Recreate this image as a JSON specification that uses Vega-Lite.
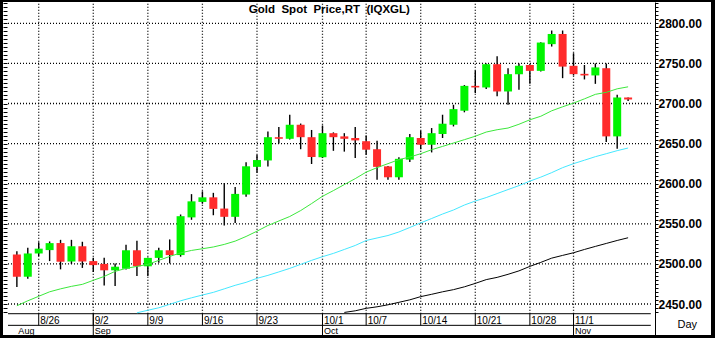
{
 "$schema": "https://vega.github.io/schema/vega-lite/v6.json",
 "width": 708, "height": 333,
 "autosize": {"type": "none"},
 "padding": {"left": 3, "top": 2, "right": 4, "bottom": 3},
 "background": "#000000",
 "config": {"view": {"fill": "#ffffff", "stroke": null}},
 "datasets": {
  "px": [
{"i":0,"d":"2024-08-22","o":2511.8,"h":2515.9,"l":2471.1,"c":2484.1,"m1":2447.8},
{"i":1,"d":"2024-08-23","o":2484,"h":2520,"l":2481.6,"c":2513,"m1":2454.0},
{"i":2,"d":"2024-08-26","o":2513,"h":2527,"l":2509.7,"c":2519,"m1":2459.6},
{"i":3,"d":"2024-08-27","o":2517.2,"h":2528,"l":2503.5,"c":2525.9,"m1":2465.2},
{"i":4,"d":"2024-08-28","o":2526,"h":2530,"l":2493.2,"c":2502.7,"m1":2468.9},
{"i":5,"d":"2024-08-29","o":2503,"h":2530,"l":2500,"c":2522,"m1":2472.0},
{"i":6,"d":"2024-08-30","o":2522,"h":2527.6,"l":2495,"c":2503,"m1":2474.5},
{"i":7,"d":"2024-09-02","o":2503.5,"h":2507.7,"l":2489.8,"c":2498.5,"m1":2479.5},
{"i":8,"d":"2024-09-03","o":2500,"h":2507.7,"l":2473,"c":2492,"m1":2484.4},
{"i":9,"d":"2024-09-04","o":2492,"h":2500.6,"l":2472.4,"c":2496.5,"m1":2490.7},
{"i":10,"d":"2024-09-05","o":2494,"h":2524,"l":2493,"c":2517,"m1":2494.4},
{"i":11,"d":"2024-09-06","o":2517,"h":2529,"l":2485,"c":2497,"m1":2496.9,"m2":2439.0},
{"i":12,"d":"2024-09-09","o":2497,"h":2508,"l":2485,"c":2507.5,"m1":2499.4,"m2":2442.2},
{"i":13,"d":"2024-09-10","o":2507.5,"h":2520,"l":2501.5,"c":2517,"m1":2504.4,"m2":2445.3},
{"i":14,"d":"2024-09-11","o":2517,"h":2530.5,"l":2500.6,"c":2511,"m1":2509.3,"m2":2449.6},
{"i":15,"d":"2024-09-12","o":2511,"h":2561.6,"l":2509,"c":2559.5,"m1":2513.7,"m2":2454.0},
{"i":16,"d":"2024-09-13","o":2558,"h":2587,"l":2555,"c":2578,"m1":2516.8,"m2":2457.7},
{"i":17,"d":"2024-09-16","o":2577.3,"h":2590.5,"l":2575,"c":2583,"m1":2518.9,"m2":2461.2},
{"i":18,"d":"2024-09-17","o":2583,"h":2588.6,"l":2560.7,"c":2568.6,"m1":2521.1,"m2":2464.5},
{"i":19,"d":"2024-09-18","o":2569,"h":2601,"l":2548,"c":2558.7,"m1":2524.3,"m2":2468.9},
{"i":20,"d":"2024-09-19","o":2558.7,"h":2596,"l":2551,"c":2587.3,"m1":2528.4,"m2":2473.3},
{"i":21,"d":"2024-09-20","o":2586.5,"h":2626.6,"l":2583.6,"c":2621.7,"m1":2534.2,"m2":2477.0},
{"i":22,"d":"2024-09-23","o":2621,"h":2636,"l":2613.5,"c":2629.5,"m1":2540.8,"m2":2482.0},
{"i":23,"d":"2024-09-24","o":2629,"h":2665,"l":2621.6,"c":2658,"m1":2547.9,"m2":2485.7},
{"i":24,"d":"2024-09-25","o":2658,"h":2670.6,"l":2650,"c":2656,"m1":2553.5,"m2":2490.0},
{"i":25,"d":"2024-09-26","o":2656,"h":2686,"l":2655,"c":2673.5,"m1":2559.1,"m2":2494.4},
{"i":26,"d":"2024-09-27","o":2673.5,"h":2675,"l":2643,"c":2658,"m1":2566.5,"m2":2499.4},
{"i":27,"d":"2024-09-30","o":2658,"h":2667,"l":2624.6,"c":2633.3,"m1":2575.2,"m2":2504.4},
{"i":28,"d":"2024-10-01","o":2633,"h":2672.6,"l":2632,"c":2663,"m1":2584.3,"m2":2509.0},
{"i":29,"d":"2024-10-02","o":2663,"h":2664,"l":2641,"c":2658,"m1":2591.4,"m2":2513.1},
{"i":30,"d":"2024-10-03","o":2659,"h":2663,"l":2640,"c":2656,"m1":2598.9,"m2":2518.0,"m3":2439.5},
{"i":31,"d":"2024-10-04","o":2657,"h":2670.6,"l":2632,"c":2654,"m1":2606.3,"m2":2523.0,"m3":2441.5},
{"i":32,"d":"2024-10-07","o":2653,"h":2660,"l":2636,"c":2642.4,"m1":2614.4,"m2":2529.2,"m3":2444.6},
{"i":33,"d":"2024-10-08","o":2643,"h":2653.6,"l":2605,"c":2621,"m1":2620.0,"m2":2532.3,"m3":2446.5},
{"i":34,"d":"2024-10-09","o":2621.6,"h":2622,"l":2605,"c":2608,"m1":2625.0,"m2":2535.4,"m3":2449.0},
{"i":35,"d":"2024-10-10","o":2608,"h":2633,"l":2605,"c":2631,"m1":2630.0,"m2":2539.8,"m3":2452.1},
{"i":36,"d":"2024-10-11","o":2630,"h":2662,"l":2627,"c":2658,"m1":2633.3,"m2":2545.4,"m3":2455.2},
{"i":37,"d":"2024-10-14","o":2657,"h":2666,"l":2643,"c":2648.6,"m1":2637.4,"m2":2551.2,"m3":2459.2},
{"i":38,"d":"2024-10-15","o":2648.6,"h":2669.4,"l":2639,"c":2663,"m1":2642.4,"m2":2556.6,"m3":2462.1},
{"i":39,"d":"2024-10-16","o":2662,"h":2686,"l":2657,"c":2674.8,"m1":2646.5,"m2":2562.2,"m3":2465.2},
{"i":40,"d":"2024-10-17","o":2673.5,"h":2698.4,"l":2671.4,"c":2693,"m1":2650.7,"m2":2567.2,"m3":2467.9},
{"i":41,"d":"2024-10-18","o":2691,"h":2723,"l":2689,"c":2722,"m1":2654.9,"m2":2573.4,"m3":2471.4},
{"i":42,"d":"2024-10-21","o":2722,"h":2741,"l":2713,"c":2720,"m1":2659.2,"m2":2578.4,"m3":2475.7},
{"i":43,"d":"2024-10-22","o":2720,"h":2750,"l":2718,"c":2749,"m1":2664.4,"m2":2582.7,"m3":2480.4},
{"i":44,"d":"2024-10-23","o":2749,"h":2759,"l":2709,"c":2715,"m1":2667.3,"m2":2587.7,"m3":2483.2},
{"i":45,"d":"2024-10-24","o":2715,"h":2744,"l":2698.4,"c":2736.6,"m1":2669.4,"m2":2592.7,"m3":2487.0},
{"i":46,"d":"2024-10-25","o":2736.6,"h":2750,"l":2717,"c":2747,"m1":2674.1,"m2":2597.6,"m3":2491.3},
{"i":47,"d":"2024-10-28","o":2748,"h":2748.5,"l":2724.5,"c":2740.7,"m1":2679.7,"m2":2603.2,"m3":2496.9},
{"i":48,"d":"2024-10-29","o":2740.7,"h":2776.5,"l":2740,"c":2776,"m1":2684.1,"m2":2608.2,"m3":2501.9},
{"i":49,"d":"2024-10-30","o":2774,"h":2791,"l":2771,"c":2786.7,"m1":2690.9,"m2":2613.8,"m3":2507.2},
{"i":50,"d":"2024-10-31","o":2786.7,"h":2791,"l":2731.6,"c":2746,"m1":2695.9,"m2":2620.0,"m3":2510.6},
{"i":51,"d":"2024-11-01","o":2747,"h":2762.7,"l":2735,"c":2736.6,"m1":2700.5,"m2":2625.0,"m3":2513.9},
{"i":52,"d":"2024-11-04","o":2737,"h":2748,"l":2730,"c":2735,"m1":2705.8,"m2":2629.3,"m3":2518.0},
{"i":53,"d":"2024-11-05","o":2735,"h":2750,"l":2724.5,"c":2745,"m1":2711.4,"m2":2633.7,"m3":2521.8},
{"i":54,"d":"2024-11-06","o":2744,"h":2750,"l":2652,"c":2659,"m1":2713.9,"m2":2637.4,"m3":2525.5},
{"i":55,"d":"2024-11-07","o":2659,"h":2710.8,"l":2643.6,"c":2707.5,"m1":2718.3,"m2":2641.2,"m3":2529.2},
{"i":56,"d":"2024-11-08","o":2707.5,"h":2707.5,"l":2703,"c":2705,"m1":2720.8,"m2":2644.5,"m3":2532.6}
  ],
  "levels": [{"v":2450},{"v":2500},{"v":2550},{"v":2600},{"v":2650},{"v":2700},{"v":2750},{"v":2800}],
  "ticks": [{"i":2,"t":"8/26"},{"i":7,"t":"9/2"},{"i":12,"t":"9/9"},{"i":17,"t":"9/16"},{"i":22,"t":"9/23"},{"i":28,"t":"10/1"},{"i":32,"t":"10/7"},{"i":37,"t":"10/14"},{"i":42,"t":"10/21"},{"i":47,"t":"10/28"},{"i":51,"t":"11/1"}],
  "months": [{"i":0,"m":"Aug"},{"i":7,"m":"Sep"},{"i":28,"m":"Oct"},{"i":51,"m":"Nov"}]
 },
 "resolve": {"axis": {"y": "independent"}},
 "layer": [
  {"data": {"name": "levels"},
   "mark": {"type": "rule", "color": "#000000", "strokeDash": [1, 2], "strokeWidth": 1.3},
   "encoding": {
    "y": {"field": "v", "type": "quantitative", "scale": {"domain": [2411.35, 2826.56], "nice": false, "zero": false}, "axis": null},
    "x": {"datum": -0.813, "type": "quantitative", "scale": {"domain": [-0.813, 63.137], "nice": false, "zero": false}, "axis": null},
    "x2": {"datum": 58.08}
   }},
  {"data": {"name": "ticks"},
   "mark": {"type": "rule", "color": "#000000", "strokeDash": [1, 2], "strokeWidth": 1.3},
   "encoding": {
    "x": {"field": "i", "type": "quantitative", "scale": {"domain": [-0.813, 63.137], "nice": false, "zero": false}, "axis": null},
    "y": {"datum": 2437.9, "type": "quantitative", "scale": {"domain": [2411.35, 2826.56], "nice": false, "zero": false}, "axis": null},
    "y2": {"datum": 2826.56}
   }},
  {"data": {"name": "ticks"},
   "mark": {"type": "rule", "color": "#000000", "strokeWidth": 1},
   "encoding": {
    "x": {"field": "i", "type": "quantitative", "scale": {"domain": [-0.813, 63.137], "nice": false, "zero": false}, "axis": null},
    "y": {"datum": 2423.4, "type": "quantitative", "scale": {"domain": [2411.35, 2826.56], "nice": false, "zero": false}, "axis": null},
    "y2": {"datum": 2437.9}
   }},
  {"data": {"name": "months"},
   "transform": [{"filter": "datum.i > 0"}],
   "mark": {"type": "rule", "color": "#000000", "strokeWidth": 1},
   "encoding": {
    "x": {"field": "i", "type": "quantitative", "scale": {"domain": [-0.813, 63.137], "nice": false, "zero": false}, "axis": null},
    "y": {"datum": 2411.35, "type": "quantitative", "scale": {"domain": [2411.35, 2826.56], "nice": false, "zero": false}, "axis": null},
    "y2": {"datum": 2437.9}
   }},
  {"data": {"values": [{}]},
   "mark": {"type": "rule", "color": "#000000", "strokeWidth": 1},
   "encoding": {
    "y": {"datum": 2437.9, "type": "quantitative", "scale": {"domain": [2411.35, 2826.56], "nice": false, "zero": false}, "axis": null},
    "x": {"datum": -0.813, "type": "quantitative", "scale": {"domain": [-0.813, 63.137], "nice": false, "zero": false}, "axis": null},
    "x2": {"datum": 58.08}
   }},
  {"data": {"values": [{}]},
   "mark": {"type": "rule", "color": "#000000", "strokeWidth": 1},
   "encoding": {
    "y": {"datum": 2423.4, "type": "quantitative", "scale": {"domain": [2411.35, 2826.56], "nice": false, "zero": false}, "axis": null},
    "x": {"datum": -0.813, "type": "quantitative", "scale": {"domain": [-0.813, 63.137], "nice": false, "zero": false}, "axis": null},
    "x2": {"datum": 58.08}
   }},
  {"data": {"name": "px"},
   "mark": {"type": "rule", "color": "#000000", "strokeWidth": 1.4},
   "encoding": {
    "x": {"field": "i", "type": "quantitative", "scale": {"domain": [-0.813, 63.137], "nice": false, "zero": false}, "axis": null},
    "y": {"field": "l", "type": "quantitative", "scale": {"domain": [2411.35, 2826.56], "nice": false, "zero": false},
     "axis": {"orient": "left", "offset": -4, "tickSize": 4, "tickColor": "#000000", "labels": false, "domain": false, "grid": false, "title": null,
      "values": [2440,2445,2450,2455,2460,2465,2470,2475,2480,2485,2490,2495,2500,2505,2510,2515,2520,2525,2530,2535,2540,2545,2550,2555,2560,2565,2570,2575,2580,2585,2590,2595,2600,2605,2610,2615,2620,2625,2630,2635,2640,2645,2650,2655,2660,2665,2670,2675,2680,2685,2690,2695,2700,2705,2710,2715,2720,2725,2730,2735,2740,2745,2750,2755,2760,2765,2770,2775,2780,2785,2790,2795,2800,2805,2810,2815,2820,2825]}},
    "y2": {"field": "h"}
   }},
  {"data": {"name": "px"},
   "mark": {"type": "bar", "width": 8},
   "encoding": {
    "x": {"field": "i", "type": "quantitative", "scale": {"domain": [-0.813, 63.137], "nice": false, "zero": false}, "axis": null},
    "y": {"field": "o", "type": "quantitative", "scale": {"domain": [2411.35, 2826.56], "nice": false, "zero": false},
     "axis": {"orient": "right", "offset": -56, "tickSize": 3, "tickColor": "#000000", "domainColor": "#000000", "grid": false, "title": null,
      "labelExpr": "datum.value % 50 == 0 ? format(datum.value, '.2f') : ''",
      "labelFont": "Liberation Sans", "labelFontSize": 12, "labelFontWeight": "bold", "labelColor": "#000000", "labelPadding": 0,
      "labelOverlap": false, "labelFlush": false, "labelBound": false,
      "values": [2440,2445,2450,2455,2460,2465,2470,2475,2480,2485,2490,2495,2500,2505,2510,2515,2520,2525,2530,2535,2540,2545,2550,2555,2560,2565,2570,2575,2580,2585,2590,2595,2600,2605,2610,2615,2620,2625,2630,2635,2640,2645,2650,2655,2660,2665,2670,2675,2680,2685,2690,2695,2700,2705,2710,2715,2720,2725,2730,2735,2740,2745,2750,2755,2760,2765,2770,2775,2780,2785,2790,2795,2800,2805,2810,2815,2820,2825]}},
    "y2": {"field": "c"},
    "color": {"condition": {"test": "datum.c >= datum.o", "value": "#00f400"}, "value": "#ff2b2b"}
   }},
  {"data": {"name": "px"},
   "mark": {"type": "line", "color": "#3ce83c", "strokeWidth": 1},
   "encoding": {
    "x": {"field": "i", "type": "quantitative", "scale": {"domain": [-0.813, 63.137], "nice": false, "zero": false}, "axis": null},
    "y": {"field": "m1", "type": "quantitative", "scale": {"domain": [2411.35, 2826.56], "nice": false, "zero": false}, "axis": null}
   }},
  {"data": {"name": "px"},
   "mark": {"type": "line", "color": "#44e8ff", "strokeWidth": 1},
   "encoding": {
    "x": {"field": "i", "type": "quantitative", "scale": {"domain": [-0.813, 63.137], "nice": false, "zero": false}, "axis": null},
    "y": {"field": "m2", "type": "quantitative", "scale": {"domain": [2411.35, 2826.56], "nice": false, "zero": false}, "axis": null}
   }},
  {"data": {"name": "px"},
   "mark": {"type": "line", "color": "#000000", "strokeWidth": 1},
   "encoding": {
    "x": {"field": "i", "type": "quantitative", "scale": {"domain": [-0.813, 63.137], "nice": false, "zero": false}, "axis": null},
    "y": {"field": "m3", "type": "quantitative", "scale": {"domain": [2411.35, 2826.56], "nice": false, "zero": false}, "axis": null}
   }},
  {"data": {"name": "ticks"},
   "mark": {"type": "text", "align": "left", "baseline": "alphabetic", "dx": 1.5, "font": "Liberation Sans", "fontSize": 10, "color": "#000000"},
   "encoding": {
    "x": {"field": "i", "type": "quantitative", "scale": {"domain": [-0.813, 63.137], "nice": false, "zero": false}, "axis": null},
    "y": {"datum": 2424.7, "type": "quantitative", "scale": {"domain": [2411.35, 2826.56], "nice": false, "zero": false}, "axis": null},
    "text": {"field": "t"}
   }},
  {"data": {"name": "months"},
   "mark": {"type": "text", "align": "left", "baseline": "alphabetic", "dx": 1.5, "font": "Liberation Sans", "fontSize": 9, "color": "#000000"},
   "encoding": {
    "x": {"field": "i", "type": "quantitative", "scale": {"domain": [-0.813, 63.137], "nice": false, "zero": false}, "axis": null},
    "y": {"datum": 2412.2, "type": "quantitative", "scale": {"domain": [2411.35, 2826.56], "nice": false, "zero": false}, "axis": null},
    "text": {"field": "m"}
   }},
  {"data": {"values": [{"label": "Day"}]},
   "mark": {"type": "text", "align": "center", "baseline": "alphabetic", "font": "Liberation Sans", "fontSize": 11, "color": "#000000"},
   "encoding": {
    "x": {"datum": 61.42, "type": "quantitative", "scale": {"domain": [-0.813, 63.137], "nice": false, "zero": false}, "axis": null},
    "y": {"datum": 2420.1, "type": "quantitative", "scale": {"domain": [2411.35, 2826.56], "nice": false, "zero": false}, "axis": null},
    "text": {"field": "label"}
   }},
  {"data": {"values": [{"label": "Gold\u00a0 Spot\u00a0 Price,RT\u00a0 (IQXGL)"}]},
   "mark": {"type": "text", "align": "center", "baseline": "alphabetic", "font": "Liberation Sans", "fontSize": 11.5, "fontWeight": "bold", "color": "#000000"},
   "encoding": {
    "x": {"datum": 28.63, "type": "quantitative", "scale": {"domain": [-0.813, 63.137], "nice": false, "zero": false}, "axis": null},
    "y": {"datum": 2813.2, "type": "quantitative", "scale": {"domain": [2411.35, 2826.56], "nice": false, "zero": false}, "axis": null},
    "text": {"field": "label"}
   }}
 ]
}
